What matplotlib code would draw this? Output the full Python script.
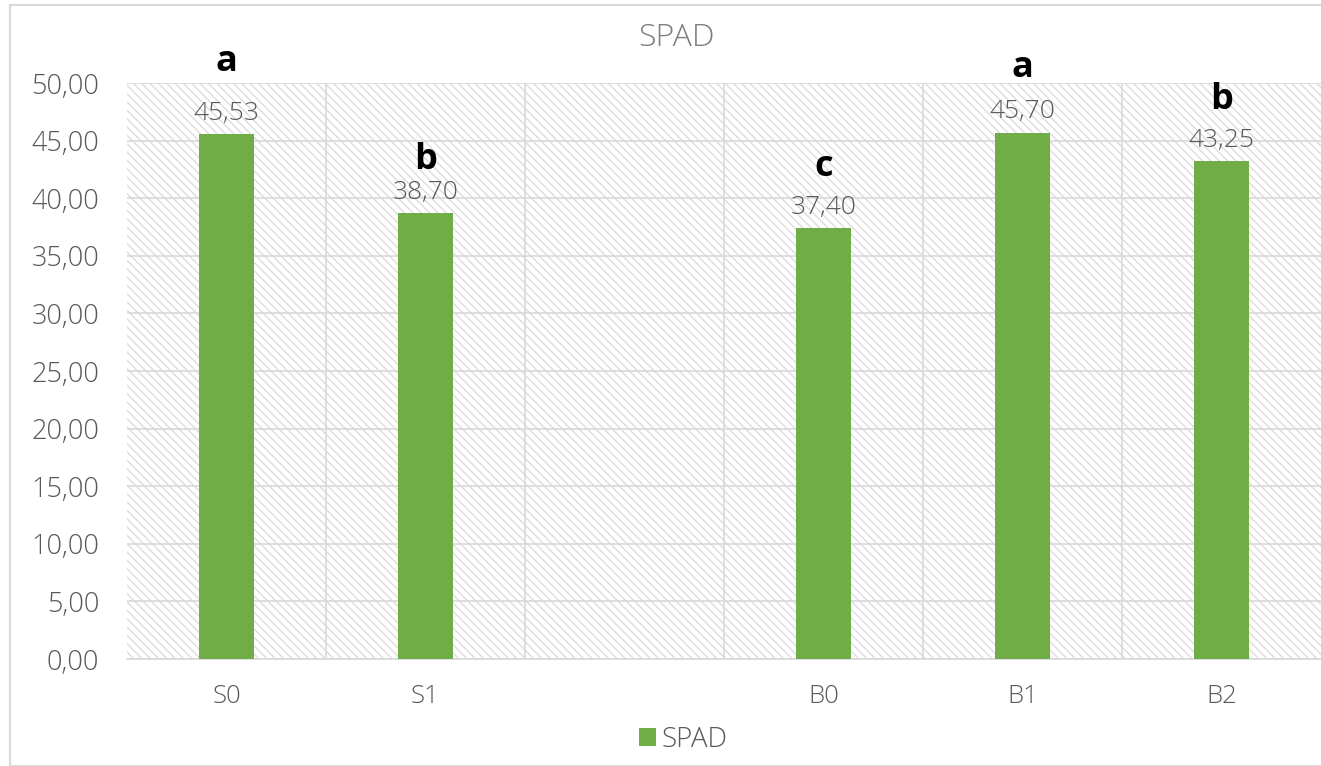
import numpy as np
import matplotlib.pyplot as plt
from matplotlib.patches import Rectangle

categorias = ["S0", "S1", "", "B0", "B1", "B2"]
valores = [45.53, 38.70, np.nan, 37.40, 45.70, 43.25]
letras = ["a", "b", "", "c", "a", "b"]
letras_y = [51.8, 43.3, np.nan, 42.7, 51.3, 48.5]

plt.rcParams['font.family'] = ['Open Sans', 'DejaVu Sans']
plt.rcParams['hatch.color'] = '#dcdcdc'
plt.rcParams['hatch.linewidth'] = 1.0

gris = '#595959'
verde = '#70ad47'

fig = plt.figure(figsize=(13.21, 7.66), dpi=100)
ax = fig.add_axes([127/1321, 1 - 659/766, 1 - 127/1321, (659 - 83)/766])

# borde del area del grafico
fig.patches.append(Rectangle((10/1321, 0), 1.2, 761/766, transform=fig.transFigure,
                             fill=False, edgecolor='#d9d9d9', linewidth=1.5))

ax.patch.set_facecolor('white')
ax.patch.set_hatch('\\\\\\\\')
ax.patch.set_edgecolor('#dcdcdc')

x = np.arange(len(categorias))
ax.bar(x, valores, width=0.28, color=verde, zorder=3, label='SPAD')

for i in x:
    if np.isnan(valores[i]):
        continue
    ax.text(i, valores[i] + 0.7, f"{valores[i]:.2f}".replace('.', ','), ha='center',
            va='bottom', fontsize=19, fontweight='light', color=gris, zorder=4)
    ax.text(i, letras_y[i], letras[i], ha='center', va='center', fontsize=26,
            fontweight='bold', color='black', zorder=4)

ax.set_xlim(-0.5, len(categorias) - 0.5)
ax.set_ylim(0, 50)
ax.set_yticks(np.arange(0, 50.1, 5))
ax.set_yticklabels([f"{v:.2f}".replace('.', ',') for v in np.arange(0, 50.1, 5)],
                   fontweight='light', fontsize=19.5)
ax.set_xticks(x)
ax.set_xticklabels(categorias, fontweight='light', fontsize=18.5)
ax.set_xticks(np.arange(0.5, len(categorias) - 0.5, 1), minor=True)

ax.grid(axis='y', color='#d9d9d9', linewidth=1.2, zorder=1)
ax.grid(axis='x', which='minor', color='#d9d9d9', linewidth=1.2, zorder=1)
ax.set_axisbelow(True)

for s in ['top', 'right', 'left']:
    ax.spines[s].set_visible(False)
ax.spines['bottom'].set_color('#d9d9d9')
ax.spines['bottom'].set_linewidth(1.2)

ax.tick_params(axis='both', which='both', length=0, colors=gris)
ax.tick_params(axis='x', pad=18)
ax.tick_params(axis='y', pad=20)

fig.text(677/1321, 1 - 38/766, "SPAD", ha='center', va='center', fontsize=23,
         fontweight='light', color='#7f7f7f')

fig.legend(loc='center', bbox_to_anchor=(683/1321, 1 - 740/766), frameon=False,
           prop={'size': 20, 'weight': 'light'}, labelcolor=gris, handlelength=0.6,
           handleheight=0.6, handletextpad=0.2)

fig.savefig('out.png', dpi=100)
